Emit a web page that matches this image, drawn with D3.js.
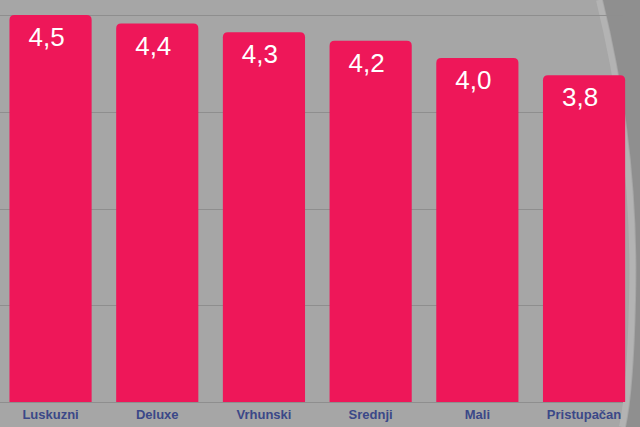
<!DOCTYPE html>
<html><head><meta charset="utf-8">
<script src="https://cdn.jsdelivr.net/npm/d3@7"></script>
<style>html,body{margin:0;padding:0;background:#a6a6a6;overflow:hidden}</style>
</head><body>
<svg id="c" width="640" height="427"></svg>
<script>
const categories = ["Luskuzni","Deluxe","Vrhunski","Srednji","Mali","Pristupačan"];
const values = [4.5,4.4,4.3,4.2,4.0,3.8];
const valueLabels = ["4,5","4,4","4,3","4,2","4,0","3,8"];
const gridTicks = [0,1.125,2.25,3.375,4.5];

const svg = d3.select("#c");
svg.append("rect").attr("width",640).attr("height",427).attr("fill","#a6a6a6");
// decorative curve at right edge
svg.append("path").attr("d","M603,0 Q640,150 636,300 Q634,390 626,427 L640,427 L640,0 Z").attr("fill","#8f8f8f");
svg.append("path").attr("d","M603,0 Q640,150 636,300 Q634,390 626,427").attr("fill","none").attr("stroke","#b3b3b3").attr("stroke-width",6).attr("transform","translate(-4,0)");

const x = d3.scaleBand().domain(categories).range([-2.8,637.4]).paddingInner(0.23).paddingOuter(0.115);
const y = d3.scaleLinear().domain([0,4.5]).range([402,15]);

svg.append("g").selectAll("line").data(gridTicks).join("line")
  .attr("x1",0).attr("x2",623).attr("y1",d=>Math.round(y(d))+0.5).attr("y2",d=>Math.round(y(d))+0.5)
  .attr("stroke","#8e8e8e").attr("stroke-width",1);

const r = 5;
svg.append("g").selectAll("path").data(values).join("path")
  .attr("fill","#ee1759")
  .attr("d",(d,i)=>{
    const x0=x(categories[i]), w=x.bandwidth(), t=y(d), b=y(0);
    return `M${x0},${b} L${x0},${t+r} Q${x0},${t} ${x0+r},${t} L${x0+w-r},${t} Q${x0+w},${t} ${x0+w},${t+r} L${x0+w},${b} Z`;
  });

svg.append("g").selectAll("text").data(values).join("text")
  .attr("x",(d,i)=>x(categories[i])+x.bandwidth()/2-4)
  .attr("y",d=>y(d)+31)
  .attr("text-anchor","middle")
  .attr("fill","#ffffff")
  .attr("font-family","Liberation Sans, Arial, sans-serif")
  .attr("font-size",26)
  .text((d,i)=>valueLabels[i]);

const xAxis = svg.append("g").attr("transform","translate(0,402)").call(d3.axisBottom(x).tickSize(0).tickPadding(8));
xAxis.select(".domain").remove();
xAxis.selectAll("text").attr("fill","#3b4888").attr("font-family","Liberation Sans, Arial, sans-serif")
  .attr("font-weight","bold").attr("font-size",13);
</script>
</body></html>
